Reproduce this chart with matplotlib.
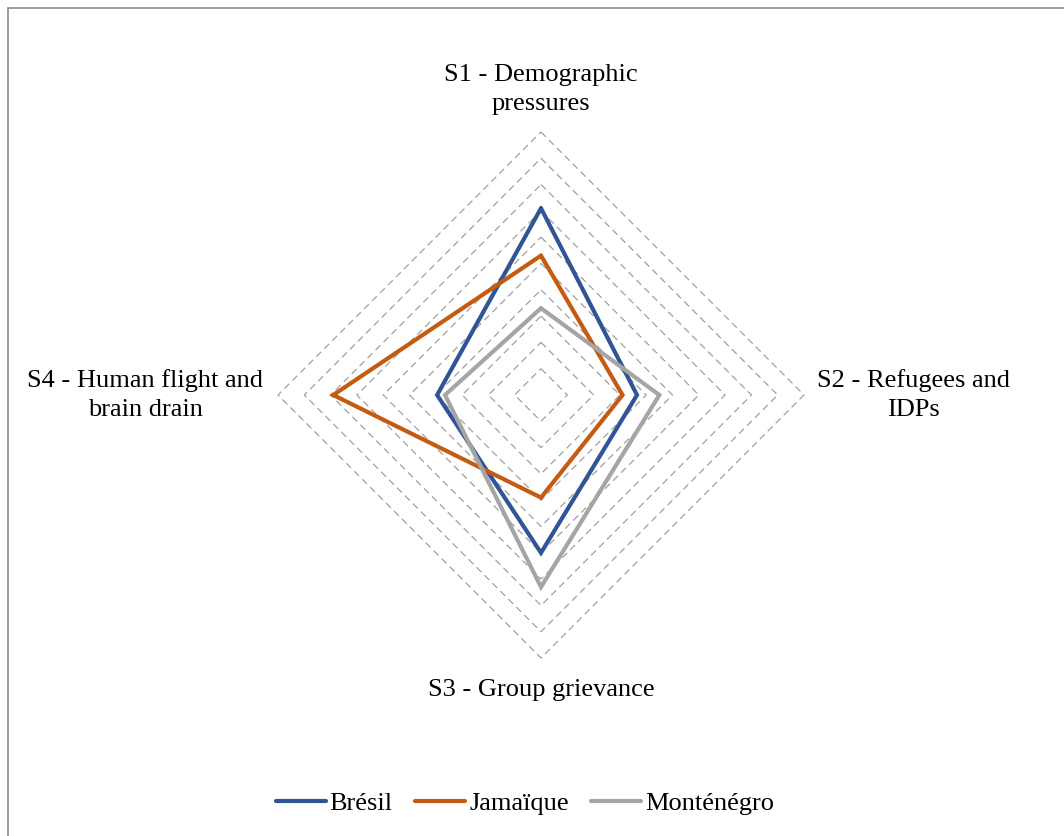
import numpy as np
import matplotlib
matplotlib.use("Agg")
import matplotlib.pyplot as plt
from matplotlib.patches import Rectangle

plt.rcParams['font.family'] = ['Liberation Serif', 'DejaVu Serif']

categories = ["S1 - Demographic\npressures", "S2 - Refugees and\nIDPs",
              "S3 - Group grievance", "S4 - Human flight and\nbrain drain"]
bresil = [7.1, 3.65, 6.0, 3.95]
jamaique = [5.3, 3.1, 3.9, 7.9]
montenegro = [3.3, 4.5, 7.3, 3.65]
series_names = ["Brésil", "Jamaïque", "Monténégro"]
colors = ["#2F5597", "#C55A11", "#A5A5A5"]
rings = [1, 2, 3, 4, 5, 6, 7, 8, 9, 10]

# angles clockwise from top
angles = np.array([0, 90, 180, 270]) * np.pi / 180


def to_xy(vals):
    v = np.array(list(vals) + [vals[0]])
    a = np.append(angles, angles[0])
    return v * np.sin(a), v * np.cos(a)


W, H = 1064, 836
fig = plt.figure(figsize=(W / 100, H / 100), dpi=100)
ax = fig.add_axes([0, 0, 1, 1])
cx, cy, unit = 541, 395, 26.3
ax.set_xlim(-cx / unit, (W - cx) / unit)
ax.set_ylim(-(H - cy) / unit, cy / unit)
ax.axis('off')

# chart border
fig.patches.append(Rectangle((8 / W, -0.1), 1.2, 1 - 8 / H + 0.1, transform=fig.transFigure,
                             fill=False, edgecolor='#8c8c8c', lw=1.2))

for r in rings:
    x, y = to_xy([r] * 4)
    ax.plot(x, y, color='#a0a0a0', lw=0.9, linestyle=(0, (5.5, 3.5)), zorder=1)

for name, vals, c in zip(series_names, [bresil, jamaique, montenegro], colors):
    x, y = to_xy(vals)
    ax.plot(x, y, color=c, lw=3, label=name, solid_joinstyle='miter',
            solid_capstyle='round', zorder=3)

fs = 19
ls = 1.42
ax.text(0, 11.6, categories[0], ha='center', va='center', fontsize=fs,
        multialignment='center', linespacing=ls)
ax.text(14.15, 0.0, categories[1], ha='center', va='center', fontsize=fs,
        multialignment='center', linespacing=ls)
ax.text(0, -11.2, categories[2], ha='center', va='center', fontsize=fs)
ax.text(-15.05, 0.0, categories[3], ha='center', va='center', fontsize=fs,
        multialignment='center', linespacing=ls)

fig.legend(loc='center', bbox_to_anchor=(525 / W, 1 - 803 / H), ncol=3, frameon=False,
           fontsize=fs, handlelength=1.9, handletextpad=0.15, columnspacing=0.85)

fig.savefig("out.png", dpi=100)
